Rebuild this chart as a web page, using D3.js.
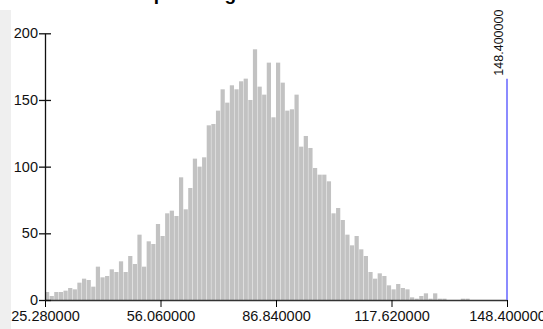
<!DOCTYPE html>
<html>
<head>
<meta charset="utf-8">
<script src="https://cdn.jsdelivr.net/npm/d3@7"></script>
<style>
  body { margin: 0; background: #fff; }
  text { font-family: "Liberation Sans", Arial, sans-serif; }
</style>
</head>
<body>
<div id="plot"></div>
<script>
const w = 543;
const h = 329;

// histogram: 100 equal bins between the two end values
const xMin = 25.28;
const xMax = 148.4;
const counts = [
  6, 3, 6, 6, 7, 9, 8, 13, 16, 15,
  10, 25, 17, 18, 23, 21, 29, 21, 33, 27,
  49, 25, 44, 42, 57, 48, 65, 67, 63, 92,
  68, 84, 106, 100, 107, 131, 132, 142, 158, 148,
  161, 158, 164, 166, 150, 188, 160, 154, 178, 137,
  178, 163, 142, 143, 154, 115, 123, 114, 99, 94,
  94, 89, 65, 69, 60, 49, 41, 48, 38, 33,
  21, 16, 20, 18, 11, 8, 12, 9, 8, 2,
  1, 3, 5, 1, 5, 1, 1, 0, 0, 0,
  1, 1, 0, 0, 0, 0, 0, 0, 0, 0
];
const xTicks = [25.28, 56.06, 86.84, 117.62, 148.4];
const yTicks = [0, 50, 100, 150, 200];
const markerValue = 148.4;
const markerHeight = 166;
const title = "Output Range";

const binWidth = (xMax - xMin) / counts.length;
const bins = counts.map((c, i) => ({ x0: xMin + i * binWidth, x1: xMin + (i + 1) * binWidth, count: c }));

const svg = d3.select("div#plot")
  .append("svg")
  .attr("width", w)
  .attr("height", h);

// grey strip of the surrounding page
svg.append("rect")
  .attr("x", 0).attr("y", 10)
  .attr("width", 11).attr("height", h - 10)
  .attr("fill", "#efefef");

// title sits mostly above the visible area, only descenders show
svg.append("text")
  .attr("x", 121)
  .attr("y", -0.5)
  .attr("font-size", "19px")
  .attr("font-weight", "bold")
  .text(title);

const xScale = d3.scaleLinear()
  .domain([xMin, xMax])
  .range([45, 507]);

const yScale = d3.scaleLinear()
  .domain([0, 200])
  .range([300, 33.3]);

svg.selectAll("rect.bar")
  .data(bins)
  .enter()
  .append("rect")
  .attr("class", "bar")
  .attr("x", d => xScale(d.x0))
  .attr("y", d => yScale(d.count))
  .attr("width", d => xScale(d.x1) - xScale(d.x0) - 0.4)
  .attr("height", d => yScale(0) - yScale(d.count))
  .attr("fill", "#c2c2c2");

// x axis
const xAxis = d3.axisBottom(xScale)
  .tickValues(xTicks)
  .tickSize(7)
  .tickSizeOuter(0)
  .tickPadding(4)
  .tickFormat(d3.format(".6f"));

const gx = svg.append("g")
  .attr("transform", `translate(0, ${yScale(0)})`)
  .call(xAxis);
gx.select(".domain").attr("stroke", "#333").attr("stroke-width", 1.5);
gx.selectAll("text").attr("font-size", "14.5px").attr("fill", "#111").attr("font-family", "Liberation Sans, Arial, sans-serif");

// y axis, ticks cross the line
const yAxis = d3.axisLeft(yScale)
  .tickValues(yTicks)
  .tickSize(6)
  .tickSizeOuter(0)
  .tickPadding(1);

const gy = svg.append("g")
  .attr("transform", `translate(${xScale(xMin)}, 0)`)
  .call(yAxis);
gy.select(".domain").attr("stroke", "#111").attr("stroke-width", 1.3);
gy.selectAll(".tick line").attr("x1", 6).attr("stroke", "#111").attr("stroke-width", 1.3);
gy.selectAll("text").attr("font-size", "14.5px").attr("fill", "#111").attr("dy", "0.3em").attr("font-family", "Liberation Sans, Arial, sans-serif");

// marker line
svg.append("line")
  .attr("x1", xScale(markerValue))
  .attr("x2", xScale(markerValue))
  .attr("y1", yScale(0))
  .attr("y2", yScale(markerHeight))
  .attr("stroke", "#6464ff")
  .attr("stroke-width", 1.5);

svg.append("text")
  .attr("transform", `translate(${xScale(markerValue) - 4}, ${yScale(markerHeight) - 3}) rotate(-90)`)
  .attr("font-size", "12.5px")
  .attr("fill", "#111")
  .text(d3.format(".6f")(markerValue));
</script>
</body>
</html>
